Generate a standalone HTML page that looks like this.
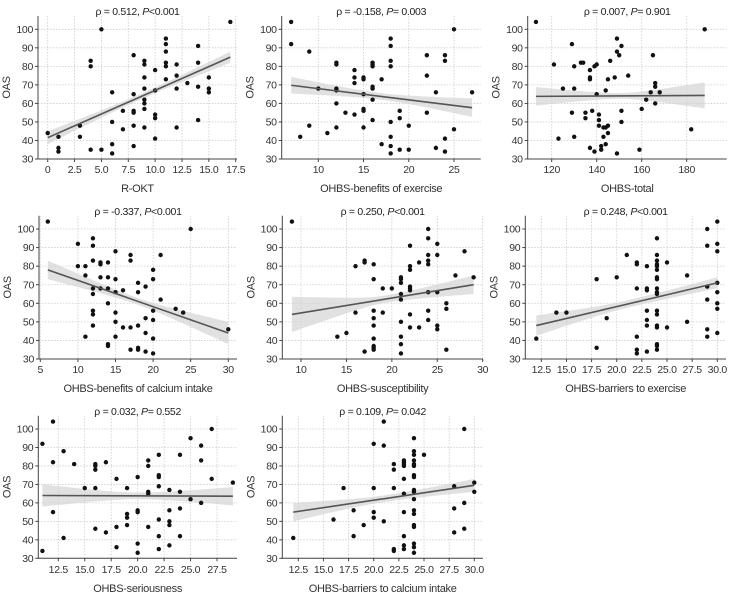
<!DOCTYPE html>
<html><head><meta charset="utf-8">
<style>
html,body{margin:0;padding:0;background:#fff;}
svg{display:block;font-family:"Liberation Sans Narrow","Liberation Sans",sans-serif;font-stretch:condensed;letter-spacing:-0.3px;}
</style></head>
<body>
<svg id="chart" width="733" height="597" viewBox="0 0 733 597" xmlns="http://www.w3.org/2000/svg"></svg>
<script>
// ---- data ----
const titles = ["\u03C1 = 0.512, |P|<0.001","\u03C1 = -0.158, |P|= 0.003","\u03C1 = 0.007, |P|= 0.901","\u03C1 = -0.337, |P|<0.001","\u03C1 = 0.250, |P|<0.001","\u03C1 = 0.248, |P|<0.001","\u03C1 = 0.032, |P|= 0.552","\u03C1 = 0.109, |P|= 0.042"];
const xLabels = ["R-OKT","OHBS-benefits of exercise","OHBS-total","OHBS-benefits of calcium intake","OHBS-susceptibility","OHBS-barriers to exercise","OHBS-seriousness","OHBS-barriers to calcium intake"];
const yTicks = [30,40,50,60,70,80,90,100];
const xTicks1 = [0,2.5,5,7.5,10,12.5,15,17.5];
const xTickLabels1 = ["0","2.5","5.0","7.5","10.0","12.5","15.0","17.5"];
const xTicks2 = [10,15,20,25];
const xTicks3 = [120,140,160,180];
const xTicks4 = [5,10,15,20,25,30];
const xTicks5 = [10,15,20,25,30];
const xTicks6 = [12.5,15,17.5,20,22.5,25,27.5,30];
const xTicks7 = [12.5,15,17.5,20,22.5,25,27.5];
const xTicks8 = [12.5,15,17.5,20,22.5,25,27.5,30];
const pts1 = [[0,44],[1,42],[1,36],[1,34],[3,48],[3,42],[4,83],[4,80],[4,35],[5,100],[5,35],[6,66],[6,50],[6,38],[6,33],[7,56],[7,46],[8,86],[8,65],[8,56],[8,55],[8,48],[8,37],[9,83],[9,81],[9,74],[9,68],[9,62],[9,60],[9,57],[9,47],[10,78],[10,67],[10,54],[10,52],[10,41],[11,95],[11,92],[11,88],[11,82],[11,80],[11,73],[12,81],[12,75],[12,68],[12,47],[13,71],[14,91],[14,82],[14,69],[14,51],[15,74],[15,68],[15,66],[17,104]];
const pts2 = [[7,104],[7,92],[8,42],[9,88],[9,48],[10,68],[11,44],[12,82],[12,81],[12,68],[12,67],[12,60],[12,47],[13,55],[14,78],[14,74],[14,71],[14,54],[15,74],[15,73],[15,65],[15,57],[15,56],[15,47],[16,82],[16,81],[16,80],[16,69],[16,68],[16,62],[16,51],[17,73],[17,38],[18,95],[18,91],[18,83],[18,80],[18,50],[18,42],[18,37],[18,33],[19,56],[19,52],[19,35],[20,48],[20,35],[22,86],[22,75],[22,55],[23,66],[23,36],[24,86],[24,83],[24,41],[24,34],[25,100],[25,46],[27,66]];
const pts3 = [[113,104],[121,81],[123,41],[125,68],[129,92],[129,55],[130,80],[130,68],[130,42],[133,82],[134,82],[135,55],[135,52],[137,78],[137,74],[137,73],[137,36],[138,56],[139,80],[139,34],[140,81],[140,65],[141,54],[141,51],[141,48],[142,37],[142,35],[143,47],[143,42],[144,67],[144,47],[144,38],[145,73],[145,48],[145,44],[146,83],[148,74],[149,95],[149,88],[149,33],[150,86],[151,91],[151,56],[151,50],[154,75],[159,35],[160,57],[162,62],[164,66],[165,86],[166,71],[166,69],[166,60],[168,66],[182,46],[188,100]];
const pts4 = [[6,104],[10,92],[10,80],[11,80],[11,75],[11,42],[12,95],[12,91],[12,83],[12,68],[12,65],[12,56],[12,54],[12,48],[13,82],[13,81],[13,74],[13,68],[14,82],[14,74],[14,68],[14,60],[14,38],[14,37],[15,88],[15,73],[15,66],[15,55],[15,50],[15,42],[16,67],[16,47],[17,86],[17,83],[17,47],[17,35],[18,71],[18,66],[18,48],[18,36],[18,35],[19,69],[19,52],[19,44],[19,34],[20,78],[20,73],[20,56],[20,51],[20,41],[20,33],[21,86],[21,62],[23,57],[24,55],[25,100],[30,46]];
const pts5 = [[9,104],[14,42],[15,44],[16,80],[16,55],[17,83],[17,82],[17,34],[18,81],[18,73],[18,56],[18,52],[18,48],[18,41],[18,37],[18,36],[18,35],[19,68],[19,55],[20,68],[21,74],[21,73],[21,71],[21,65],[21,62],[21,50],[21,42],[21,38],[21,33],[22,91],[22,80],[22,78],[22,69],[22,68],[22,67],[22,54],[22,47],[23,82],[23,47],[24,100],[24,95],[24,86],[24,83],[24,81],[24,66],[24,56],[24,51],[25,92],[25,86],[25,66],[25,48],[25,46],[26,60],[26,57],[26,35],[27,75],[28,88],[29,74]];
const pts6 = [[12,41],[14,55],[15,55],[18,73],[18,36],[19,52],[20,74],[21,86],[22,82],[22,81],[22,68],[22,42],[22,35],[22,33],[23,80],[23,68],[23,67],[23,56],[23,51],[23,48],[23,34],[24,95],[24,86],[24,83],[24,81],[24,80],[24,78],[24,74],[24,73],[24,68],[24,66],[24,65],[24,56],[24,54],[24,48],[24,47],[24,38],[24,37],[24,35],[25,82],[25,47],[27,75],[27,50],[29,100],[29,91],[29,69],[29,62],[29,46],[29,42],[30,104],[30,92],[30,88],[30,71],[30,66],[30,60],[30,57],[30,44]];
const pts7 = [[11,92],[11,34],[12,104],[12,82],[12,55],[13,88],[13,41],[14,81],[15,68],[16,81],[16,80],[16,78],[16,68],[16,46],[17,82],[17,44],[18,73],[18,47],[18,36],[19,68],[19,54],[19,52],[19,48],[20,74],[20,56],[20,55],[20,38],[20,33],[21,83],[21,80],[21,66],[21,65],[21,47],[22,86],[22,75],[22,74],[22,69],[22,51],[22,42],[22,35],[23,67],[23,56],[23,50],[23,48],[23,37],[24,86],[24,66],[24,57],[24,42],[25,95],[25,62],[26,91],[26,83],[26,60],[27,100],[27,73],[29,71]];
const pts8 = [[12,41],[16,51],[17,68],[18,56],[18,42],[19,48],[20,92],[20,68],[20,55],[20,52],[21,104],[21,91],[21,50],[22,81],[22,78],[22,68],[22,35],[22,34],[23,83],[23,82],[23,81],[23,80],[23,73],[23,65],[23,55],[23,42],[23,37],[23,35],[24,95],[24,88],[24,86],[24,83],[24,81],[24,80],[24,75],[24,74],[24,67],[24,66],[24,62],[24,56],[24,54],[24,48],[24,47],[24,38],[24,36],[24,33],[25,86],[28,69],[28,57],[28,44],[29,100],[29,60],[29,46],[30,71],[30,66]];
// fit line: [xStart, yStart, xEnd, yEnd]
const fits = [[0,41.5,17,85],[7,69.8,27,57.7],[113,63.8,188,64.3],[6,78,30,44],[9,54,29,70],[12,48,30,71],[11,64,29,63.6],[12,55,30,69.5]];
// CI half-widths: [start, middle, end]
const cis = [[3.5,1.5,3],[4.5,1.8,5],[5,1.5,7],[5,1.8,6],[9.5,2,5],[5.5,2,3],[6,1.8,5],[5,1.8,3.5]];

// ---- layout ----
const rows = [{y100:29.3,y30:159,top:16,title:11,tick:169,xl:192},{y100:229,y30:359,top:215.7,title:211,tick:369,xl:392},{y100:429,y30:558.3,top:415.7,title:411,tick:569,xl:592}];
const panels = [
 {row:0,spine:38,right:237,v0:0,p0:47.7,v1:17.5,p1:235.7,ticks:xTicks1,labels:xTickLabels1,pts:pts1},
 {row:0,spine:281.7,right:480.7,v0:10,p0:318.3,v1:25,p1:454,ticks:xTicks2,pts:pts2},
 {row:0,spine:527.7,right:726.7,v0:120,p0:551.7,v1:180,p1:686.7,ticks:xTicks3,pts:pts3},
 {row:1,spine:39,right:237,v0:5,p0:40.3,v1:30,p1:228.3,ticks:xTicks4,pts:pts4},
 {row:1,spine:282.3,right:483,v0:10,p0:301,v1:30,p1:482.7,ticks:xTicks5,pts:pts5},
 {row:1,spine:525.3,right:726,v0:12.5,p0:541.3,v1:30,p1:717.3,ticks:xTicks6,pts:pts6,dec:1},
 {row:2,spine:38.3,right:237,v0:12.5,p0:58.3,v1:27.5,p1:217,ticks:xTicks7,pts:pts7,dec:1},
 {row:2,spine:282.3,right:483,v0:12.5,p0:298.3,v1:30,p1:474.3,ticks:xTicks8,pts:pts8,dec:1}
];
const NS="http://www.w3.org/2000/svg";
const svg=document.getElementById('chart');
function mk(tag,attrs,parent){const e=document.createElementNS(NS,tag);for(const k in attrs)e.setAttribute(k,attrs[k]);(parent||svg).appendChild(e);return e;}

panels.forEach((p,i)=>{
  const r=rows[p.row];
  const g=mk('g',{});
  
  
  const sx=v=>p.p0+(v-p.v0)*(p.p1-p.p0)/(p.v1-p.v0);
  const sy=v=>r.y30+(v-30)*(r.y100-r.y30)/70;
  p.ticks.forEach(t=>{const l=mk('line',{x1:sx(t),x2:sx(t),y1:r.top,y2:r.y30,stroke:'#ccc','stroke-width':0.8,'stroke-dasharray':'1.5,1.5'},g);});
  yTicks.forEach(t=>{const l=mk('line',{x1:p.spine,x2:p.right,y1:sy(t),y2:sy(t),stroke:'#ccc','stroke-width':0.8,'stroke-dasharray':'1.5,1.5'},g);});
  const f=fits[i],c=cis[i];const xm=(f[0]+f[2])/2;
  const fy=x=>f[1]+(x-f[0])*(f[3]-f[1])/(f[2]-f[0]);
  const hw=x=>{const e=x<xm?c[0]:c[2];const ex=x<xm?f[0]:f[2];const t=(x-xm)/(ex-xm);return Math.sqrt(c[1]*c[1]+(e*e-c[1]*c[1])*t*t);};
  let up=[],lo=[];
  for(let k=0;k<=40;k++){const x=f[0]+(f[2]-f[0])*k/40;up.push(sx(x).toFixed(1)+','+sy(fy(x)+hw(x)).toFixed(1));lo.unshift(sx(x).toFixed(1)+','+sy(fy(x)-hw(x)).toFixed(1));}
  const band=mk('polygon',{points:up.concat(lo).join(' '),fill:'#d4d4d4','fill-opacity':0.7},g);
  
  
  p.pts.forEach(pt=>{const d=mk('circle',{cx:sx(pt[0]),cy:sy(pt[1]),r:2.2,fill:'#111'},g);});
  const fl=mk('line',{x1:sx(f[0]),y1:sy(f[1]),x2:sx(f[2]),y2:sy(f[3]),stroke:'#555','stroke-width':1.6},g);
  
  
  const ya=mk('line',{x1:p.spine,x2:p.spine,y1:r.top,y2:r.y30+0.5,stroke:'#444','stroke-width':1},g);
  
  
  const xa=mk('line',{x1:p.spine,x2:p.right,y1:r.y30,y2:r.y30,stroke:'#444','stroke-width':1},g);
  
  
  yTicks.forEach(t=>{mk('line',{x1:p.spine-3,x2:p.spine,y1:sy(t),y2:sy(t),stroke:'#444'},g);
    const tx=mk('text',{x:p.spine-5,y:sy(t)+3.6,'text-anchor':'end','font-size':10.5,fill:'#333'},g);tx.textContent=t;
    });
  p.ticks.forEach((t,k)=>{mk('line',{x1:sx(t),x2:sx(t),y1:r.y30,y2:r.y30+3,stroke:'#444'},g);
    const tx=mk('text',{x:sx(t),y:r.tick+4,'text-anchor':'middle','font-size':10.5,fill:'#333'},g);
    tx.textContent=p.labels?p.labels[k]:(p.dec?t.toFixed(1):t);
    });
  const cx=(p.spine+p.right)/2;
  const tt=mk('text',{x:cx,y:r.title+4,'text-anchor':'middle','font-size':10.5,fill:'#222'},g);
  const parts=titles[i].split('|');
  tt.appendChild(document.createTextNode(parts[0]));
  const ts=mk('tspan',{'font-style':'italic'},tt);ts.textContent=parts[1];
  tt.appendChild(document.createTextNode(parts[2]));
  
  
  const xl=mk('text',{x:cx,y:r.xl,'text-anchor':'middle','font-size':11,fill:'#333'},g);xl.textContent=xLabels[i];
  
  
  const yy=(r.top+r.y30)/2;
  const yl=mk('text',{x:p.spine-28,y:yy,'text-anchor':'middle','font-size':11,fill:'#333',transform:'rotate(-90 '+(p.spine-28)+' '+yy+')'},g);yl.textContent='OAS';
  
  
});
</script>
</body></html>
